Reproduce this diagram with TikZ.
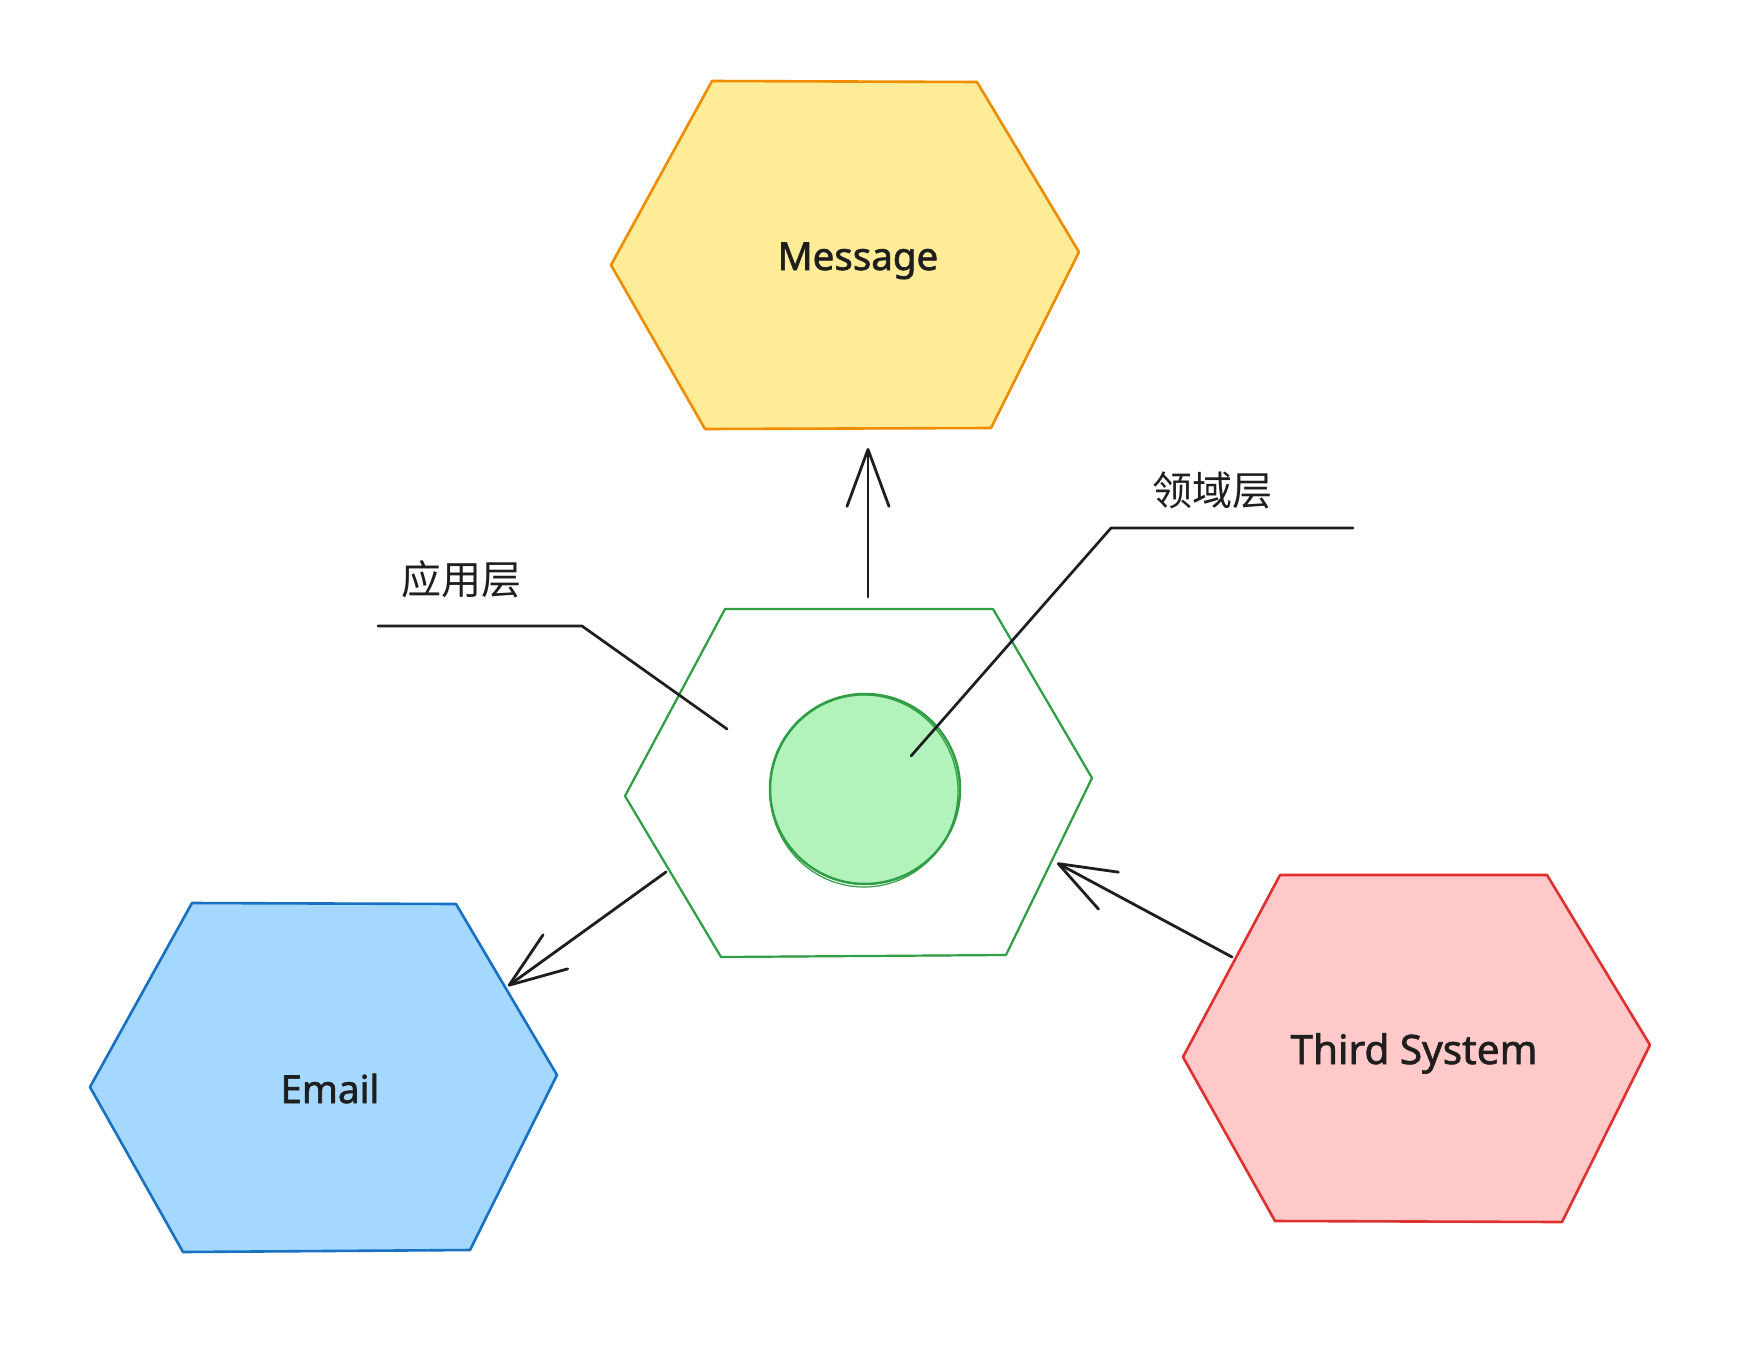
\documentclass[tikz,border=0pt]{standalone}
\usepackage{fontspec}
\setmainfont{Noto Sans}
\newfontfamily\lblfont[FakeBold=1.6]{Noto Sans}
\newfontfamily\cjk{Noto Sans CJK SC}
\usetikzlibrary{arrows.meta}
\definecolor{ink}{HTML}{1E1E1E}
\definecolor{msgfill}{HTML}{FFEC99}
\definecolor{msgline}{HTML}{F08C00}
\definecolor{mailfill}{HTML}{A5D8FF}
\definecolor{mailline}{HTML}{1971C2}
\definecolor{thirdfill}{HTML}{FFC9C9}
\definecolor{thirdline}{HTML}{E03131}
\definecolor{appline}{HTML}{2F9E44}
\definecolor{corefill}{HTML}{B2F2BB}
\tikzset{
  hexmain/.style={line width=2.6pt, line join=round, line cap=round},
  hexsketch/.style={line width=1.2pt, line join=round, line cap=round},
  lbl/.style={font=\lblfont\fontsize{38.5}{40}\selectfont, text=ink, inner sep=0pt, anchor=base},
  cjklbl/.style={font=\cjk\fontsize{40}{44}\selectfont, text=ink, inner sep=0pt, anchor=base},
  leader/.style={draw=ink, line width=2.7pt, line join=round, line cap=round},
  arr/.style={draw=ink, line width=2.8pt, line cap=round, line join=round,
    -{Straight Barb[length=57pt, width=42pt, line cap=round, line join=round]}},
}
\begin{document}
\begin{tikzpicture}[x=1pt, y=-1pt]
\fill[white] (0,0) rectangle (1752,1370);
\useasboundingbox (0,0) rectangle (1752,1370);

% Message hexagon
\coordinate (m1) at (712,81);
\coordinate (m2) at (977,82);
\coordinate (m3) at (1079,252);
\coordinate (m4) at (991,428);
\coordinate (m5) at (705,429);
\coordinate (m6) at (611,265);
\fill[msgfill] (m1) -- (m2) -- (m3) -- (m4) -- (m5) -- (m6) -- cycle;
\draw[hexmain, draw=msgline] (m1) -- (m2) -- (m3) -- (m4) -- (m5) -- (m6) -- cycle;
\draw[hexsketch, draw=msgline, shift={(1.8,-1.5)}] (m1) -- (m2) -- (m3) -- (m4) -- (m5) -- (m6) -- cycle;
\node[lbl] (msg) at (858,270) {Message};

% Application hexagon
\coordinate (g1) at (725,609);
\coordinate (g2) at (993,609);
\coordinate (g3) at (1092,778);
\coordinate (g4) at (1006,955);
\coordinate (g5) at (721,957);
\coordinate (g6) at (625,796);
\draw[hexmain, draw=appline, line width=2.2pt] (g1) -- (g2) -- (g3) -- (g4) -- (g5) -- (g6) -- cycle;
\draw[hexsketch, draw=appline, shift={(-1.8,1.5)}] (g1) -- (g2) -- (g3) -- (g4) -- (g5) -- (g6) -- cycle;

% Domain core circle
\node[circle, minimum size=190pt, inner sep=0pt, fill=corefill, draw=appline, line width=2.5pt] (core) at (865,789) {};
\draw[appline, line width=1.2pt] (864,791) circle[x radius=94pt, y radius=96pt];

% Email hexagon
\coordinate (e1) at (192,903);
\coordinate (e2) at (456,904);
\coordinate (e3) at (557,1075);
\coordinate (e4) at (470,1250);
\coordinate (e5) at (183,1252);
\coordinate (e6) at (90,1087);
\fill[mailfill] (e1) -- (e2) -- (e3) -- (e4) -- (e5) -- (e6) -- cycle;
\draw[hexmain, draw=mailline] (e1) -- (e2) -- (e3) -- (e4) -- (e5) -- (e6) -- cycle;
\draw[hexsketch, draw=mailline, shift={(1.6,1.6)}] (e1) -- (e2) -- (e3) -- (e4) -- (e5) -- (e6) -- cycle;
\node[lbl] (mail) at (330,1103) {Email};

% Third System hexagon
\coordinate (t1) at (1280,875);
\coordinate (t2) at (1547,875);
\coordinate (t3) at (1650,1045);
\coordinate (t4) at (1562,1222);
\coordinate (t5) at (1275,1221);
\coordinate (t6) at (1183,1057);
\fill[thirdfill] (t1) -- (t2) -- (t3) -- (t4) -- (t5) -- (t6) -- cycle;
\draw[hexmain, draw=thirdline] (t1) -- (t2) -- (t3) -- (t4) -- (t5) -- (t6) -- cycle;
\draw[hexsketch, draw=thirdline, shift={(-1.8,-1.6)}] (t1) -- (t2) -- (t3) -- (t4) -- (t5) -- (t6) -- cycle;
\node[lbl, font=\lblfont\fontsize{40.5}{42}\selectfont] (third) at (1414,1064) {Third System};

% arrows
\coordinate (appTop) at (868,597);
\coordinate (msgBot) at (868,448);
\coordinate (appLL) at (666,872);
\coordinate (mailTR) at (508,986);
\coordinate (thirdUL) at (1232,957);
\coordinate (appLR) at (1057,863);
\draw[arr] (appTop) -- (msgBot);
\draw[arr] (appLL) -- (mailTR);
\draw[arr] (thirdUL) -- (appLR);

% leader lines and labels
\coordinate (appIn) at (727,729);
\coordinate (appBend) at (582,626);
\coordinate (appEnd) at (378,626);
\draw[leader] (appIn) -- (appBend) -- (appEnd);
\node[cjklbl] (applbl) at (461,594) {应用层};

\coordinate (coreIn) at (911,756);
\coordinate (coreBend) at (1111,528);
\coordinate (coreEnd) at (1353,528);
\draw[leader] (coreIn) -- (coreBend) -- (coreEnd);
\node[cjklbl] (corelbl) at (1212,505) {领域层};
\end{tikzpicture}
\end{document}
